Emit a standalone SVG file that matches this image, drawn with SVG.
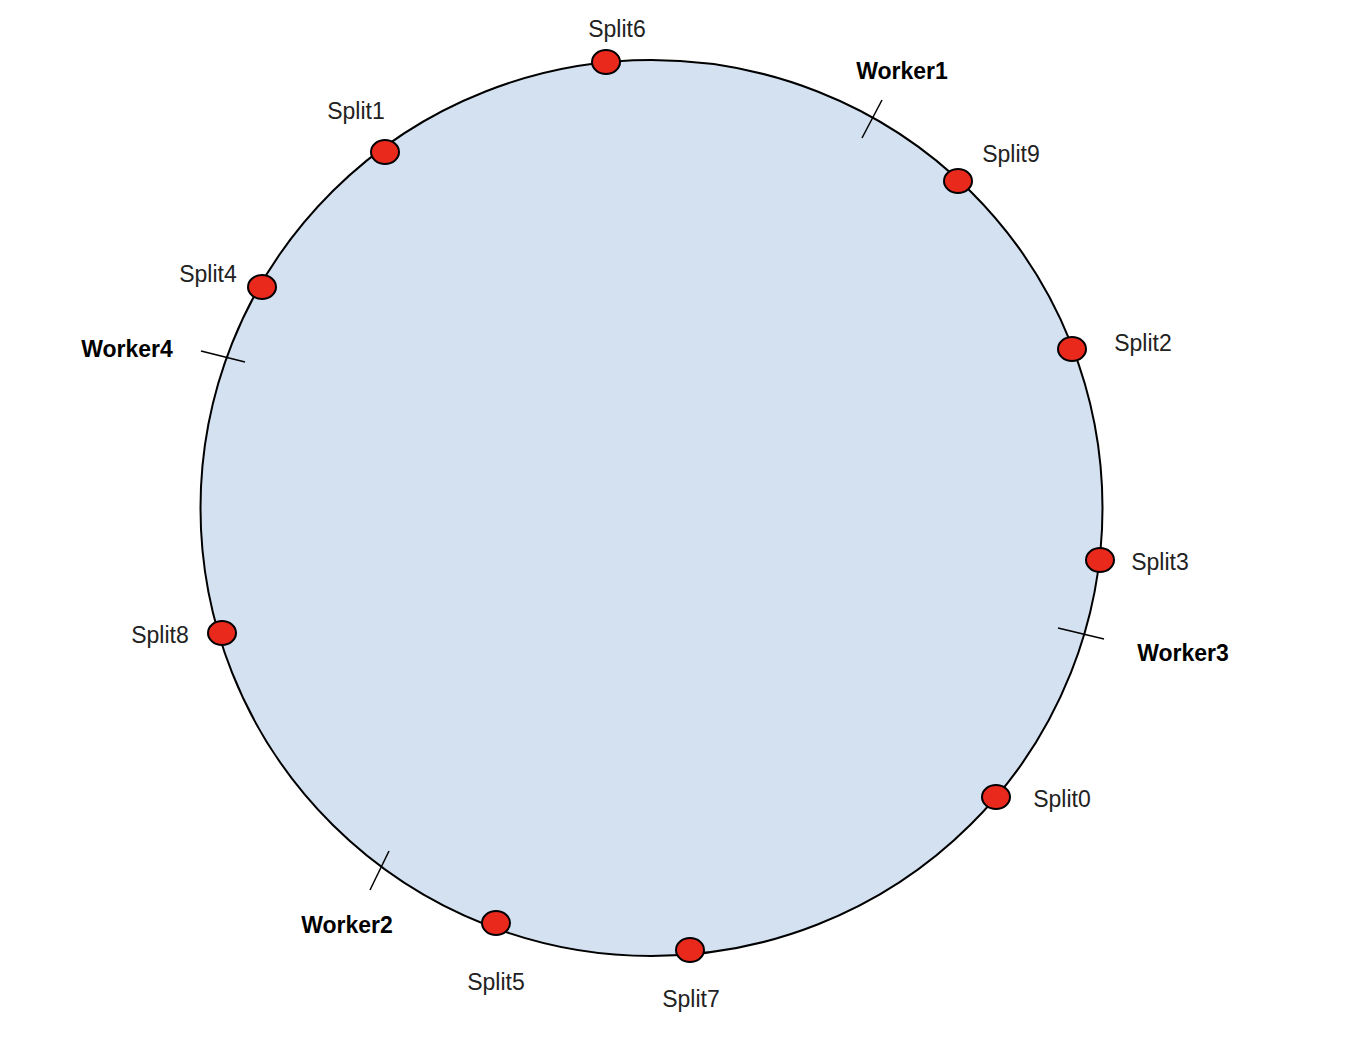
<svg xmlns="http://www.w3.org/2000/svg" width="1350" height="1042" viewBox="0 0 1350 1042">
<style>
.t{font-family:"Liberation Sans",Arial,sans-serif;font-size:23px;fill:#222}
.b{font-weight:bold;fill:#000}
.d{fill:#e8291c;stroke:#000;stroke-width:2}
.k{stroke:#000;stroke-width:1.5}
</style>
<rect width="1350" height="1042" fill="#fff"/>
<g id="ring"><ellipse cx="651.5" cy="508" rx="451" ry="448" fill="#d4e1f1" stroke="#000" stroke-width="2"/></g>
<g id="connectors">
<line class="k" x1="862" y1="138" x2="882" y2="100"/>
<line class="k" x1="201" y1="351" x2="245" y2="362"/>
<line class="k" x1="1058" y1="628" x2="1104" y2="639"/>
<line class="k" x1="370" y1="890" x2="389" y2="851"/>
</g>
<g id="splits">
<g id="s6"><ellipse class="d" cx="606" cy="62" rx="14" ry="12"/><text class="t" x="617" y="37" text-anchor="middle">Split6</text></g>
<g id="s1"><ellipse class="d" cx="385" cy="152" rx="14" ry="12"/><text class="t" x="356" y="119" text-anchor="middle">Split1</text></g>
<g id="s4"><ellipse class="d" cx="262" cy="287" rx="14" ry="12"/><text class="t" x="208" y="282" text-anchor="middle">Split4</text></g>
<g id="s9"><ellipse class="d" cx="958" cy="181" rx="14" ry="12"/><text class="t" x="1011" y="162" text-anchor="middle">Split9</text></g>
<g id="s2"><ellipse class="d" cx="1072" cy="349" rx="14" ry="12"/><text class="t" x="1143" y="351" text-anchor="middle">Split2</text></g>
<g id="s3"><ellipse class="d" cx="1100" cy="560" rx="14" ry="12"/><text class="t" x="1160" y="570" text-anchor="middle">Split3</text></g>
<g id="s0"><ellipse class="d" cx="996" cy="797" rx="14" ry="12"/><text class="t" x="1062" y="807" text-anchor="middle">Split0</text></g>
<g id="s7"><ellipse class="d" cx="690" cy="950" rx="14" ry="12"/><text class="t" x="691" y="1007" text-anchor="middle">Split7</text></g>
<g id="s5"><ellipse class="d" cx="496" cy="923" rx="14" ry="12"/><text class="t" x="496" y="990" text-anchor="middle">Split5</text></g>
<g id="s8"><ellipse class="d" cx="222" cy="633" rx="14" ry="12"/><text class="t" x="160" y="643" text-anchor="middle">Split8</text></g>
</g>
<g id="workers">
<text class="t b" x="902" y="79" text-anchor="middle">Worker1</text>
<text class="t b" x="127" y="357" text-anchor="middle">Worker4</text>
<text class="t b" x="1183" y="661" text-anchor="middle">Worker3</text>
<text class="t b" x="347" y="933" text-anchor="middle">Worker2</text>
</g>
</svg>
